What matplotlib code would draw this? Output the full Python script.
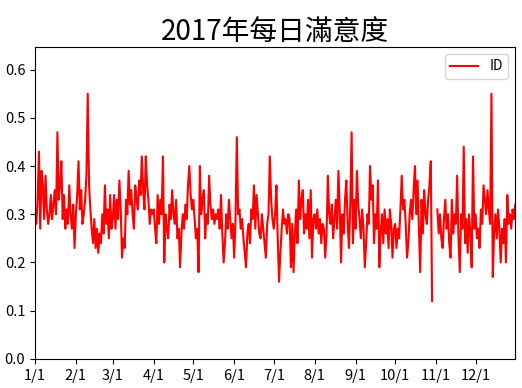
import numpy as np
import pandas as pd
import matplotlib
matplotlib.use("Agg")
import matplotlib.pyplot as plt

plt.rcParams['font.family'] = ['Noto Sans CJK TC', 'DejaVu Sans']

nan = np.nan
# daily satisfaction, one list per month
jan = [0.30, 0.28, 0.33, 0.43, 0.27, 0.39, 0.36, 0.29, 0.38, 0.31, 0.28, 0.30, 0.34, 0.29, 0.32, 0.35,
       0.30, 0.47, 0.33, 0.36, 0.41, 0.29, 0.34, 0.27, 0.31, 0.28, 0.36, 0.30, 0.27, 0.32, 0.23]
feb = [0.30, 0.34, 0.41, 0.31, 0.35, 0.28, 0.30, 0.33, 0.38, 0.55, 0.36, 0.31, 0.27, 0.24, 0.29, 0.23,
       0.27, 0.22, 0.26, 0.24, 0.30, 0.26, 0.36, 0.28, 0.31, 0.25, 0.34, 0.27]
mar = [0.29, 0.34, 0.27, 0.33, 0.29, 0.37, 0.31, 0.21, 0.25, 0.23, 0.33, 0.30, 0.39, 0.32, 0.35, 0.30,
       0.27, 0.36, 0.33, 0.31, 0.37, 0.34, 0.42, 0.35, 0.31, 0.42, 0.36, 0.33, 0.28, 0.31, 0.30]
apr = [0.31, 0.27, 0.24, 0.34, 0.28, 0.33, 0.30, 0.42, 0.20, 0.30, 0.27, 0.25, 0.32, 0.29, 0.35, 0.30,
       0.28, 0.33, 0.25, 0.27, 0.19, 0.26, 0.30, 0.27, 0.32, 0.29, 0.36, 0.40, 0.34, 0.31]
may = [0.33, 0.29, 0.25, 0.27, 0.18, 0.40, 0.30, 0.33, 0.35, 0.25, 0.30, 0.28, 0.38, 0.32, 0.29, 0.31,
       0.28, 0.30, 0.29, 0.31, 0.27, 0.34, 0.26, 0.20, 0.24, 0.30, 0.27, 0.33, 0.29, 0.25, 0.28]
jun = [0.21, 0.29, 0.46, 0.30, 0.31, 0.27, 0.29, 0.25, 0.22, 0.19, 0.26, 0.28, 0.24, 0.31, 0.29, 0.36,
       0.27, 0.34, 0.30, 0.26, 0.25, 0.30, 0.27, 0.24, 0.21, 0.28, 0.30, 0.42, 0.33, 0.29]
jul = [0.27, 0.30, 0.36, 0.25, 0.16, 0.22, 0.27, 0.31, 0.28, 0.29, 0.26, 0.30, 0.29, 0.19, 0.28, 0.18,
       0.26, 0.31, 0.24, 0.37, 0.29, 0.33, 0.35, 0.26, 0.30, 0.27, 0.33, 0.25, 0.35, 0.21, 0.29]
aug = [0.30, 0.27, 0.31, 0.26, 0.29, 0.24, 0.28, 0.27, 0.21, 0.26, 0.38, 0.30, 0.28, 0.32, 0.25, 0.29,
       0.33, 0.27, 0.39, 0.31, 0.20, 0.30, 0.26, 0.33, 0.37, 0.28, 0.23, 0.32, 0.47, 0.24, 0.33]
sep = [0.27, 0.39, 0.32, 0.29, 0.25, 0.31, 0.27, 0.19, 0.24, 0.30, 0.28, 0.40, 0.33, 0.36, 0.24, 0.30,
       0.27, 0.37, 0.19, 0.26, 0.30, 0.24, 0.31, 0.26, 0.29, 0.23, 0.31, 0.28, 0.21, 0.27]
oct_ = [0.28, 0.23, 0.27, 0.25, 0.31, 0.38, 0.31, 0.33, 0.28, 0.21, 0.24, 0.30, 0.33, 0.29, 0.35, 0.40,
        0.30, 0.37, 0.27, 0.18, 0.33, 0.26, 0.35, 0.30, 0.28, 0.33, 0.36, 0.41, 0.12, nan, nan]
nov = [nan, 0.31, 0.26, 0.30, 0.25, 0.23, 0.29, 0.33, 0.27, 0.30, 0.24, 0.21, 0.33, 0.26, 0.30, 0.28,
       0.38, 0.25, 0.18, 0.30, 0.27, 0.44, 0.24, 0.29, 0.22, 0.30, 0.26, 0.19, 0.42, 0.27]
dec = [0.30, 0.25, 0.27, 0.23, 0.31, 0.28, 0.36, 0.33, 0.30, 0.35, 0.31, 0.28, 0.55, 0.17, 0.26, 0.30,
       0.25, 0.31, 0.27, 0.20, 0.27, 0.24, 0.29, 0.20, 0.34, 0.28, 0.30, 0.27, 0.31, 0.29, 0.32]

tick_labels = ["1/1", "2/1", "3/1", "4/1", "5/1", "6/1", "7/1", "8/1", "9/1", "10/1", "11/1", "12/1"]

values = np.array(jan + feb + mar + apr + may + jun + jul + aug + sep + oct_ + nov + dec)
days = pd.date_range("2017-01-01", "2017-12-31", freq="D")
month_starts = pd.date_range("2017-01-01", periods=12, freq="MS")

fig = plt.figure(figsize=(5.22, 3.88), dpi=100)
ax = fig.add_subplot(111)
fig.subplots_adjust(left=0.067, right=0.987, bottom=0.075, top=0.879)

ax.plot(days, values, color="red", lw=1.5, label="ID")
ax.set_xlim(days[0], days[-1])
ax.set_ylim(0, 0.647)
ax.set_yticks(np.arange(0, 0.61, 0.1))
ax.set_yticklabels([f"{v:.1f}" for v in np.arange(0, 0.61, 0.1)])
ax.set_xticks(month_starts)
ax.set_xticklabels(tick_labels)
ax.tick_params(labelsize=10.5)
ax.set_title("2017年每日滿意度", fontsize=20, pad=5)
ax.legend(loc="upper right", fontsize=10)

plt.savefig("out.png", dpi=100)
